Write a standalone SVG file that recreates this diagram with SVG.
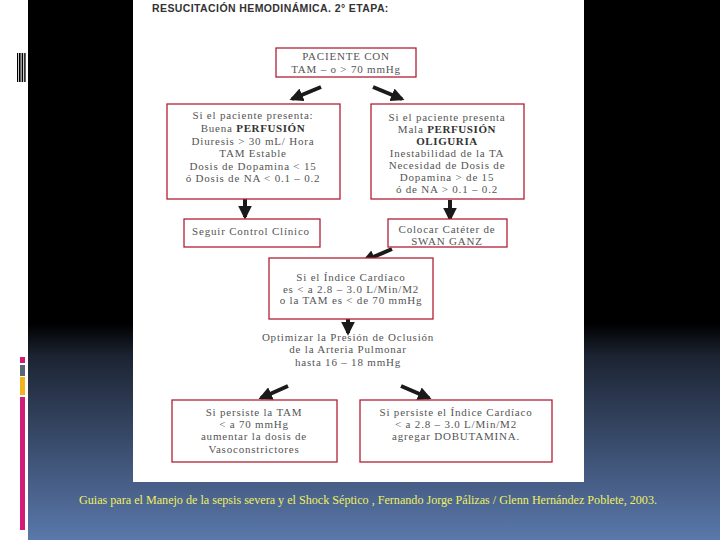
<svg xmlns="http://www.w3.org/2000/svg" width="720" height="540" viewBox="0 0 720 540">
<defs>
<linearGradient id="bg" x1="0" y1="0" x2="0" y2="1">
<stop offset="0" stop-color="#000"/>
<stop offset="0.6" stop-color="#000"/>
<stop offset="0.66" stop-color="#1c2433"/>
<stop offset="1" stop-color="#5a78ab"/>
</linearGradient>
<marker id="ah" viewBox="0 0 10 10" refX="8" refY="5" markerWidth="3.4" markerHeight="3.4" orient="auto" markerUnits="strokeWidth">
<path d="M0,0 L10,5 L0,10 z" fill="#1a1a1a"/>
</marker>
<style>
.box{fill:#fff;stroke:#b02035;stroke-width:1.3}
.t{font-family:"Liberation Serif","DejaVu Serif",serif;font-size:11px;letter-spacing:0.8px;fill:#555;text-anchor:middle}
.b{font-weight:bold;fill:#333;letter-spacing:0.6px}
.arr{stroke:#1a1a1a;stroke-width:4;fill:none;marker-end:url(#ah)}
</style>
</defs>
<rect x="0" y="0" width="720" height="540" fill="url(#bg)"/>
<rect x="0" y="0" width="28" height="540" fill="#fff"/>
<g id="deco">
<rect x="17" y="53" width="1.2" height="29" fill="#000"/>
<rect x="19" y="53" width="1.6" height="29" fill="#000"/>
<rect x="21.6" y="53" width="1.6" height="29" fill="#000"/>
<rect x="24.2" y="53" width="1.4" height="29" fill="#000"/>
<rect x="20" y="357" width="5" height="6" fill="#d21c78"/>
<rect x="20" y="365" width="5" height="11" fill="#5b6575"/>
<rect x="20" y="377" width="5" height="18" fill="#f2b41c"/>
<rect x="20" y="397" width="5" height="133" fill="#d21c78"/>
</g>
<rect x="133" y="0" width="451" height="482" fill="#fff"/>
<text x="152" y="12" font-family="'Liberation Sans',Arial,sans-serif" font-size="10.5" font-weight="bold" fill="#333" letter-spacing="0.4">RESUCITACIÓN HEMODINÁMICA. 2° ETAPA:</text>
<g id="connectors">
<line class="arr" x1="321" y1="87" x2="292" y2="99"/>
<line class="arr" x1="373" y1="87" x2="402" y2="99"/>
<line class="arr" x1="245" y1="192" x2="245" y2="217"/>
<line class="arr" x1="450" y1="200" x2="450" y2="219"/>
<line class="arr" x1="392" y1="249" x2="364" y2="261"/>
<line class="arr" x1="348" y1="312" x2="348" y2="333"/>
<line class="arr" x1="288" y1="386" x2="261" y2="398"/>
<line class="arr" x1="401" y1="386" x2="429" y2="398"/>
</g>
<g id="n1">
<rect class="box" x="276" y="48" width="140" height="29"/>
<text class="t" x="346" y="60">PACIENTE CON</text>
<text class="t" x="346" y="73">TAM – o &gt; 70 mmHg</text>
</g>
<g id="n2">
<rect class="box" x="167" y="104" width="173" height="95"/>
<text class="t" x="253" y="119">Si el paciente presenta:</text>
<text class="t" x="253" y="132">Buena <tspan class="b">PERFUSIÓN</tspan></text>
<text class="t" x="253" y="145">Diuresis  &gt;  30 mL/ Hora</text>
<text class="t" x="253" y="157">TAM  Estable</text>
<text class="t" x="253" y="170">Dosis de Dopamina &lt; 15</text>
<text class="t" x="253" y="182">ó Dosis de NA &lt; 0.1 – 0.2</text>
</g>
<g id="n3">
<rect class="box" x="371" y="104" width="153" height="95"/>
<text class="t" x="447" y="121">Si el paciente presenta</text>
<text class="t" x="447" y="133">Mala <tspan class="b">PERFUSIÓN</tspan></text>
<text class="t b" x="447" y="145">OLIGURIA</text>
<text class="t" x="447" y="157">Inestabilidad de la TA</text>
<text class="t" x="447" y="169">Necesidad de Dosis de</text>
<text class="t" x="447" y="181">Dopamina &gt; de 15</text>
<text class="t" x="447" y="193">ó de NA &gt; 0.1 – 0.2</text>
</g>
<g id="n4">
<rect class="box" x="184" y="219" width="136" height="28"/>
<text class="t" x="251" y="235">Seguir Control Clínico</text>
</g>
<g id="n5">
<rect class="box" x="388" y="219" width="119" height="28"/>
<text class="t" x="447" y="233">Colocar Catéter de</text>
<text class="t" x="447" y="245">SWAN GANZ</text>
</g>
<g id="n6">
<rect class="box" x="269" y="258" width="164" height="61"/>
<text class="t" x="351" y="281">Si el Índice Cardíaco</text>
<text class="t" x="351" y="293">es &lt; a 2.8 – 3.0 L/Min/M2</text>
<text class="t" x="351" y="304">o la TAM es &lt; de 70 mmHg</text>
</g>
<g id="n7">
<text class="t" x="348" y="341">Optimizar la Presión de Oclusión</text>
<text class="t" x="348" y="353">de la Arteria Pulmonar</text>
<text class="t" x="348" y="366">hasta 16 – 18 mmHg</text>
</g>
<g id="n8">
<rect class="box" x="172" y="400" width="165" height="62"/>
<text class="t" x="254" y="416">Si persiste la TAM</text>
<text class="t" x="254" y="428">&lt; a 70 mmHg</text>
<text class="t" x="254" y="440">aumentar la dosis de</text>
<text class="t" x="254" y="453">Vasoconstrictores</text>
</g>
<g id="n9">
<rect class="box" x="360" y="400" width="192" height="62"/>
<text class="t" x="456" y="416">Si persiste el Índice Cardíaco</text>
<text class="t" x="456" y="428">&lt; a 2.8 – 3.0 L/Min/M2</text>
<text class="t" x="456" y="440">agregar DOBUTAMINA.</text>
</g>
<text x="79" y="504" font-family="'Liberation Serif','Times New Roman',serif" font-size="11.5" fill="#f0f060" textLength="578" lengthAdjust="spacingAndGlyphs">Guias para el Manejo de la sepsis severa y el Shock Séptico , Fernando Jorge Pálizas / Glenn Hernández Poblete, 2003.</text>
</svg>
